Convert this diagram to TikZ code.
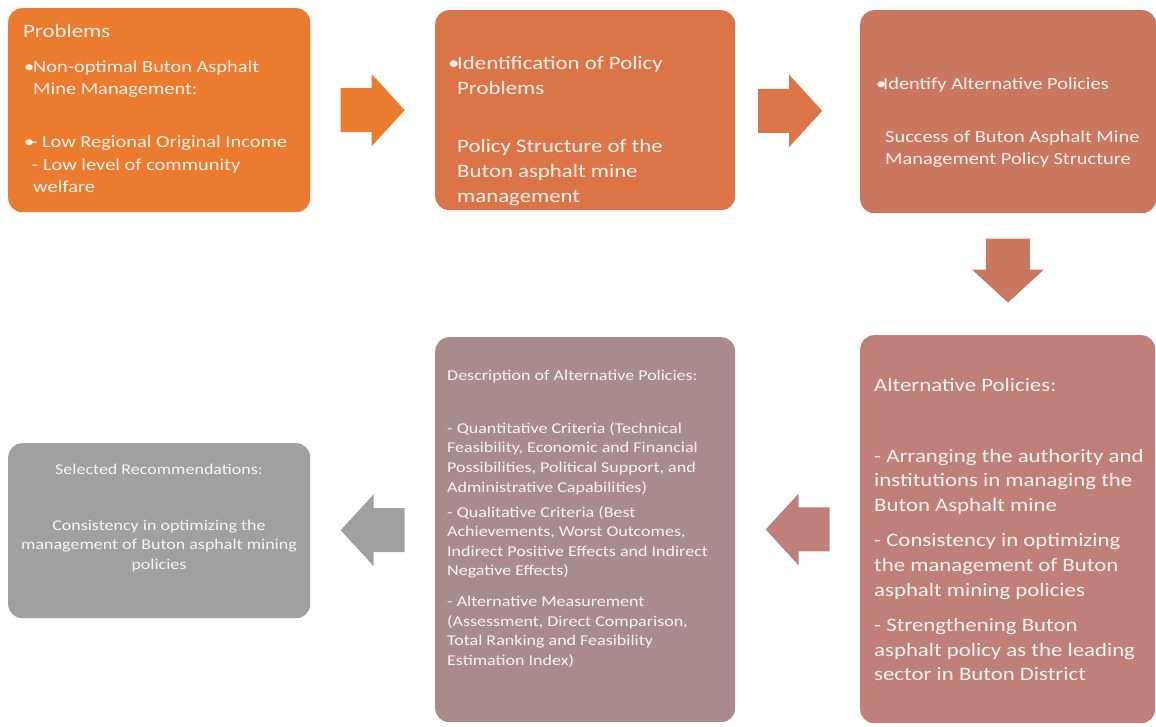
\documentclass[tikz,border=0pt]{standalone}
\usepackage{fontspec}
\setmainfont{Carlito}[FakeStretch=1.2]
\usetikzlibrary{calc}
% fills of the six stages, shading from orange to grey
\definecolor{stageA}{HTML}{EB7B2F}
\definecolor{stageB}{HTML}{DB7548}
\definecolor{stageC}{HTML}{C9785F}
\definecolor{stageD}{HTML}{BE8078}
\definecolor{stageE}{HTML}{AA8B8C}
\definecolor{stageF}{HTML}{A0A0A0}
\begin{document}
\begin{tikzpicture}[x=1pt,y=-1pt,
  box/.style={rounded corners=14pt, inner sep=0pt, anchor=north west},
  txt/.style={anchor=north west, inner sep=0pt, align=left, text=white, text opacity=0.9},
  blockarrow/.pic={\path[pic actions] (-32,-22) -- (-1,-22) -- (-1,-36) -- (32,0) -- (-1,36) -- (-1,22) -- (-32,22) -- cycle;}
]
\useasboundingbox (0,0) rectangle (1156,726);

% stage boxes
\node[box, fill=stageA, minimum width=302pt, minimum height=204pt] (b1) at (8,8) {};
\node[box, fill=stageB, minimum width=300pt, minimum height=200pt] (b2) at (435,10) {};
\node[box, fill=stageC, minimum width=296pt, minimum height=203pt] (b3) at (860,10) {};
\node[box, fill=stageD, minimum width=295pt, minimum height=388pt] (b5) at (860,335) {};
\node[box, fill=stageE, minimum width=300pt, minimum height=385pt] (b4) at (435,337) {};
\node[box, fill=stageF, minimum width=302pt, minimum height=175pt] (b6) at (8,443) {};

% block arrows between the stages
\coordinate (m1) at ($(b1.east)!0.5!(b2.west)$);
\coordinate (m2) at ($(b2.east)!0.44!(b3.west)$);
\coordinate (m3) at ($(b3.south)!0.47!(b5.north)$);
\coordinate (m4) at ($(b5.west)!0.5!(b4.east)$);
\coordinate (m5) at ($(b4.west)!0.5!(b6.east)$);
\pic[fill=stageA] at (m1) {blockarrow};
\pic[fill=stageB] at (m2) {blockarrow};
\pic[fill=stageC, rotate=-90] at (m3) {blockarrow};
\pic[fill=stageD, rotate=180] at (m4) {blockarrow};
\pic[fill=stageF, rotate=180] at (m5) {blockarrow};

% texts
\node[txt, font=\fontsize{17}{22.5}\selectfont] (t1) at (23,24) {{\fontsize{19}{22.5}\selectfont Problems}\\[12.5pt]
\makebox[10pt][l]{\hspace{1pt}•}Non-optimal Buton Asphalt\\
\hspace{10pt}Mine Management:\\[30.5pt]
\makebox[8pt][l]{\hspace{1pt}•}- Low Regional Original Income\\
\hspace{9pt}- Low level of community\\
\hspace{10pt}welfare};

\node[txt, font=\fontsize{19}{25}\selectfont] (t2) at (448,56) {\makebox[9pt][l]{•}Identification of Policy\\
\hspace{9pt}Problems\\[33pt]
\hspace{9pt}Policy Structure of the\\
\hspace{9pt}Buton asphalt mine\\
\hspace{9pt}management};

\node[txt, font=\fontsize{17}{22}\selectfont] (t3) at (876,77.5) {\makebox[7pt][l]{•}Identify Alternative Policies\\[31pt]
\hspace{9pt}Success of Buton Asphalt Mine\\
\hspace{9pt}Management Policy Structure};

\node[txt, font=\fontsize{19}{24.7}\selectfont] (t5) at (874,378.5) {Alternative Policies:\\[45.5pt]
- Arranging the authority and\\
institutions in managing the\\
Buton Asphalt mine\\[10.5pt]
- Consistency in optimizing\\
the management of Buton\\
asphalt mining policies\\[10.5pt]
- Strengthening Buton\\
asphalt policy as the leading\\
sector in Buton District};

\node[txt, font=\fontsize{15}{19.6}\selectfont] (t4) at (447,370) {Description of Alternative Policies:\\[33pt]
- Quantitative Criteria (Technical\\
Feasibility, Economic and Financial\\
Possibilities, Political Support, and\\
Administrative Capabilities)\\[5.5pt]
- Qualitative Criteria (Best\\
Achievements, Worst Outcomes,\\
Indirect Positive Effects and Indirect\\
Negative Effects)\\[11pt]
- Alternative Measurement\\
(Assessment, Direct Comparison,\\
Total Ranking and Feasibility\\
Estimation Index)};

\node[txt, anchor=north, align=center, font=\fontsize{15}{19.5}\selectfont] (t6) at (159,463.5) {Selected Recommendations:\\[36.5pt]
Consistency in optimizing the\\
management of Buton asphalt mining\\
policies};
\end{tikzpicture}
\end{document}
